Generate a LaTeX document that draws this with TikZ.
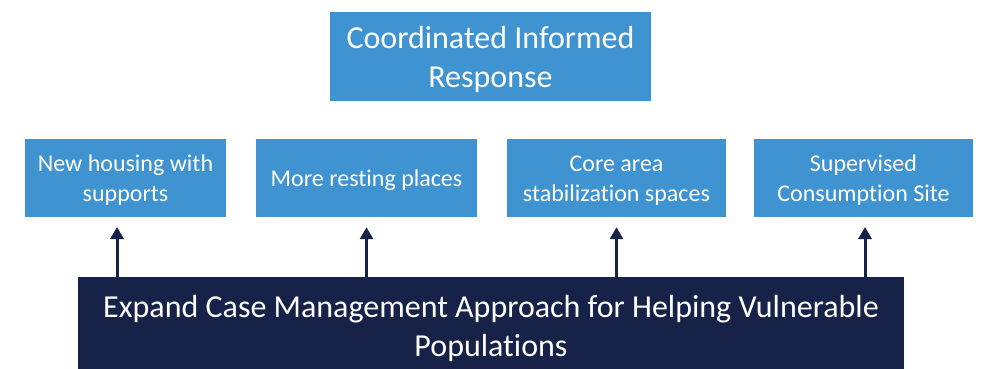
\documentclass[tikz,border=0pt]{standalone}
\usepackage{fontspec}
\setmainfont{Carlito}[Ligatures=NoCommon]
\usetikzlibrary{arrows.meta}
\definecolor{boxblue}{HTML}{3F93D0}
\definecolor{darknavy}{HTML}{172249}

\begin{document}
\begin{tikzpicture}[x=1pt, y=-1pt,
  blue/.style = {fill=boxblue, text=white, align=center, inner sep=0pt},
  small/.style = {blue, minimum height=78pt, font=\fontsize{24}{30}\selectfont},
  link/.style = {draw=darknavy, line width=3pt, -{Triangle[length=12pt,width=13pt]}}]
\useasboundingbox (0,0) rectangle (981,368);

\node[blue, minimum width=321pt, minimum height=89pt, font=\fontsize{32}{39}\selectfont] (resp) at (490.5,56.5) {\rule{0pt}{29pt}Coordinated Informed\\Response};

\node[small, minimum width=201pt] (s1) at (125.5,178) {\rule{0pt}{21pt}New housing with\\supports};
\node[small, minimum width=221pt] (s2) at (366.5,178) {\rule{0pt}{21pt}More resting places};
\node[small, minimum width=219pt] (s3) at (616.5,178) {\rule{0pt}{21pt}Core area\\stabilization spaces};
\node[small, minimum width=219pt] (s4) at (863.5,178) {\rule{0pt}{21pt}Supervised\\Consumption Site};

% box runs past the lower edge of the page
\node[fill=darknavy, text=white, align=center, minimum width=826pt, minimum height=103pt, font=\fontsize{32}{39}\selectfont] (base) at (491,328.5) {Expand Case Management Approach for Helping Vulnerable\\Populations};

\draw[link] (base.north -| 117,0) -- (117,227);
\draw[link] (base.north -| s2.south) -- ([yshift=-10pt]s2.south);
\draw[link] (base.north -| s3.south) -- ([yshift=-10pt]s3.south);
\draw[link] (base.north -| 865,0) -- (865,227);
\end{tikzpicture}
\end{document}
